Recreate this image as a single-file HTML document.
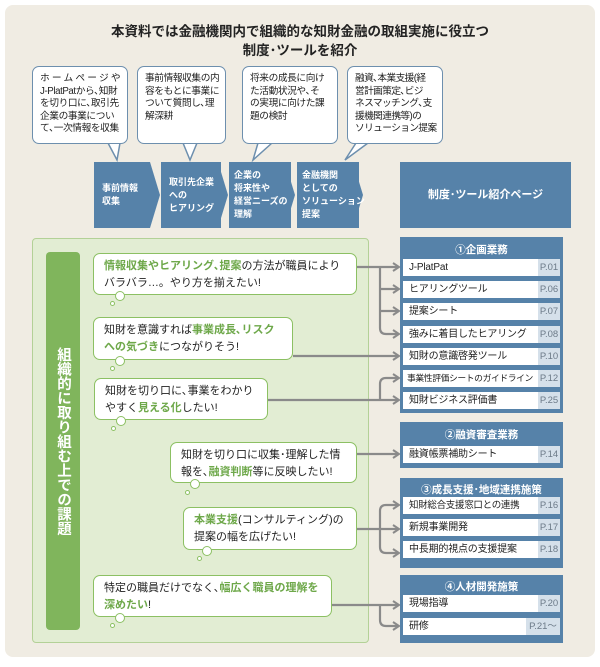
<!DOCTYPE html>
<html><head><meta charset="utf-8"><style>
*{margin:0;padding:0;box-sizing:border-box}
body{width:600px;height:667px;background:#fff;font-family:"Liberation Sans","Noto Sans CJK JP",sans-serif;position:relative;overflow:hidden;color:#222}
.a{position:absolute}
.bg{left:5px;top:5px;width:590px;height:652px;background:#f0ece3;border-radius:8px}
.t{left:0;width:600px;text-align:center;font-weight:bold;font-size:13.5px;color:#222}
.co{background:#fff;border:1.5px solid #6d8fae;border-radius:7px;font-size:9.7px;line-height:12.6px;padding:6px 3px 0 7px;color:#222;white-space:nowrap;letter-spacing:-0.4px}
.ch{background:#5682a9;color:#fff;font-size:9px;font-weight:bold;line-height:13px;display:flex;align-items:center;padding-left:8px;white-space:nowrap}
.gb{left:32px;top:238px;width:337px;height:405px;background:#e2edd3;border:1px solid #b3d197;border-radius:4px}
.gl{left:46px;top:252px;width:34px;height:378px;background:#80b55c;border-radius:4px;color:#fff;font-weight:bold;font-size:14.5px;writing-mode:vertical-rl;text-align:center;line-height:34px}
.bu{background:#fff;border:1.5px solid #8cc063;border-radius:7px;font-size:11px;line-height:17px;padding:4px 10px;color:#222}
.g{color:#6ea84a;font-weight:bold}
.c1{width:10px;height:10px;border:1.5px solid #8cc063;border-radius:50%;background:#fff}
.c2{width:5px;height:5px;border:1px solid #8cc063;border-radius:50%;background:#fff}
.grp{background:#5682a9;left:400px;width:163px}
.gh{color:#fff;font-weight:bold;font-size:10.5px;text-align:center;position:absolute;left:0;width:100%}
.row{position:absolute;left:3px;width:157px;height:17px;background:#fff;font-size:10px;line-height:17px;padding-left:6px;color:#222;white-space:nowrap;overflow:hidden;letter-spacing:-0.2px}
.pg{position:absolute;right:0;top:0;height:17px;width:22px;background:#d5e0ea;color:#6c7a88;font-size:9.5px;text-align:center;letter-spacing:0}
</style></head><body>
<div class="a bg"></div>
<div class="a t" style="top:20px">本資料では金融機関内で組織的な知財金融の取組実施に役立つ</div>
<div class="a t" style="top:39px">制度･ツールを紹介</div>

<svg class="a" style="left:0;top:0" width="600" height="667">
<g fill="#fff" stroke="#6d8fae" stroke-width="1.5">
<path d="M108 143 L117 160 L120 143"/>
<path d="M183 143 L190 160 L197 143"/>
<path d="M258 143 L253 160 L272 143"/>
<path d="M356 143 L345 160 L368 143"/>
</g>
<g fill="#5682a9">
<polygon points="94,162 150,162 160,195 150,228 94,228"/>
<polygon points="161,162 218,162 228,195 218,228 161,228"/>
<polygon points="229,162 285,162 295,195 285,228 229,228"/>
<polygon points="297,162 353,162 363,195 353,228 297,228"/>
</g>
</svg>
<div class="a co" style="left:32px;top:66px;width:96px;height:78px"><span style="letter-spacing:2.2px">ホームページや</span><br>J-PlatPatから､知財<br>を切り口に､取引先<br>企業の事業につい<br>て､一次情報を収集</div>
<div class="a co" style="left:137px;top:66px;width:89px;height:78px">事前情報収集の内<br>容をもとに事業に<br>ついて質問し､理<br>解深耕</div>
<div class="a co" style="left:242px;top:66px;width:96px;height:78px">将来の成長に向け<br>た活動状況や､そ<br>の実現に向けた課<br>題の検討</div>
<div class="a co" style="left:347px;top:66px;width:96px;height:78px;letter-spacing:-0.6px">融資､本業支援(経<br>営計画策定､ビジ<br>ネスマッチング､支<br>援機関連携等)の<br>ソリューション提案</div>
<div class="a ch" style="left:94px;top:162px;width:56px;height:66px">事前情報<br>収集</div>
<div class="a ch" style="left:161px;top:162px;width:60px;height:66px">取引先企業<br>への<br>ヒアリング</div>
<div class="a ch" style="left:229px;top:162px;width:62px;height:66px;padding-left:5px">企業の<br>将来性や<br>経営ニーズの<br>理解</div>
<div class="a ch" style="left:297px;top:162px;width:62px;height:66px;padding-left:5px">金融機関<br>としての<br>ソリューション<br>提案</div>
<div class="a" style="left:400px;top:162px;width:171px;height:66px;background:#5682a9;color:#fff;font-weight:bold;font-size:11px;text-align:center;line-height:66px">制度･ツール紹介ページ</div>

<div class="a gb"></div>
<div class="a gl">組織的に取り組む上での課題</div>

<div class="a bu" style="left:93px;top:253px;width:264px;height:42px"><span class="g">情報収集やヒアリング､提案</span>の方法が職員によりバラバラ…。やり方を揃えたい!</div>
<div class="a bu" style="left:93px;top:317px;width:200px;height:43px">知財を意識すれば<span class="g">事業成長､リスクへの気づき</span>につながりそう!</div>
<div class="a bu" style="left:94px;top:378px;width:174px;height:42px">知財を切り口に､事業をわかりやすく<span class="g">見える化</span>したい!</div>
<div class="a bu" style="left:170px;top:442px;width:187px;height:41px">知財を切り口に収集･理解した情報を､<span class="g">融資判断</span>等に反映したい!</div>
<div class="a bu" style="left:183px;top:507px;width:174px;height:43px"><span class="g">本業支援</span>(コンサルティング)の提案の幅を広げたい!</div>
<div class="a bu" style="left:93px;top:575px;width:239px;height:42px">特定の職員だけでなく､<span class="g">幅広く職員の理解を深めたい</span>!</div>

<div class="a c1" style="left:115px;top:291px"></div><div class="a c2" style="left:110px;top:301px"></div>
<div class="a c1" style="left:115px;top:356px"></div><div class="a c2" style="left:110px;top:366px"></div>
<div class="a c1" style="left:116px;top:416px"></div><div class="a c2" style="left:111px;top:426px"></div>
<div class="a c1" style="left:190px;top:479px"></div><div class="a c2" style="left:185px;top:490px"></div>
<div class="a c1" style="left:202px;top:546px"></div><div class="a c2" style="left:197px;top:556px"></div>
<div class="a c1" style="left:115px;top:613px"></div><div class="a c2" style="left:110px;top:623px"></div>

<svg class="a" style="left:0;top:0" width="600" height="667">
<g fill="none" stroke="#8a8a8a" stroke-width="2.2">
<path d="M357 267 H398"/><path d="M380 267 V328 Q380 334 386 334 H398"/>
<path d="M380 289 H398"/><path d="M380 311 H398"/>
<path d="M293 356 H398"/>
<path d="M268 400 H398"/><path d="M380 400 V384 Q380 378 386 378 H398"/>
<path d="M357 454 H398"/>
<path d="M357 529 H380"/><path d="M380 511 Q380 505 386 505 H398"/><path d="M380 511 V547 Q380 553 386 553 H398"/><path d="M380 529 H398"/>
<path d="M332 605 H398"/><path d="M380 605 V620 Q380 626 386 626 H398"/>
</g>
<g fill="none" stroke="#8a8a8a" stroke-width="2">
<path d="M393 263 L399 267 L393 271"/><path d="M393 285 L399 289 L393 293"/><path d="M393 307 L399 311 L393 315"/><path d="M393 330 L399 334 L393 338"/>
<path d="M393 352 L399 356 L393 360"/><path d="M393 374 L399 378 L393 382"/><path d="M393 396 L399 400 L393 404"/>
<path d="M393 450 L399 454 L393 458"/>
<path d="M393 501 L399 505 L393 509"/><path d="M393 525 L399 529 L393 533"/><path d="M393 549 L399 553 L393 557"/>
<path d="M393 601 L399 605 L393 609"/><path d="M393 622 L399 626 L393 630"/>
</g>
</svg>

<div class="a grp" style="top:237px;height:176px">
<div class="gh" style="top:5px">①企画業務</div>
<div class="row" style="top:22px">J-PlatPat<div class="pg">P.01</div></div>
<div class="row" style="top:44px">ヒアリングツール<div class="pg">P.06</div></div>
<div class="row" style="top:66px">提案シート<div class="pg">P.07</div></div>
<div class="row" style="top:89px">強みに着目したヒアリング<div class="pg">P.08</div></div>
<div class="row" style="top:111px">知財の意識啓発ツール<div class="pg">P.10</div></div>
<div class="row" style="top:133px;font-size:8.8px;letter-spacing:-0.4px;padding-left:4px">事業性評価シートのガイドライン<div class="pg">P.12</div></div>
<div class="row" style="top:155px">知財ビジネス評価書<div class="pg">P.25</div></div>
</div>
<div class="a grp" style="top:422px;height:46px">
<div class="gh" style="top:5px">②融資審査業務</div>
<div class="row" style="top:24px">融資帳票補助シート<div class="pg">P.14</div></div>
</div>
<div class="a grp" style="top:478px;height:90px">
<div class="gh" style="top:4px">③成長支援･地域連携施策</div>
<div class="row" style="top:19px;font-size:9.5px;letter-spacing:-0.3px">知財総合支援窓口との連携<div class="pg">P.16</div></div>
<div class="row" style="top:41px">新規事業開発<div class="pg">P.17</div></div>
<div class="row" style="top:63px">中長期的視点の支援提案<div class="pg">P.18</div></div>
</div>
<div class="a grp" style="top:575px;height:68px">
<div class="gh" style="top:4px">④人材開発施策</div>
<div class="row" style="top:20px">現場指導<div class="pg">P.20</div></div>
<div class="row" style="top:43px">研修<div class="pg" style="width:34px">P.21〜</div></div>
</div>
</body></html>
